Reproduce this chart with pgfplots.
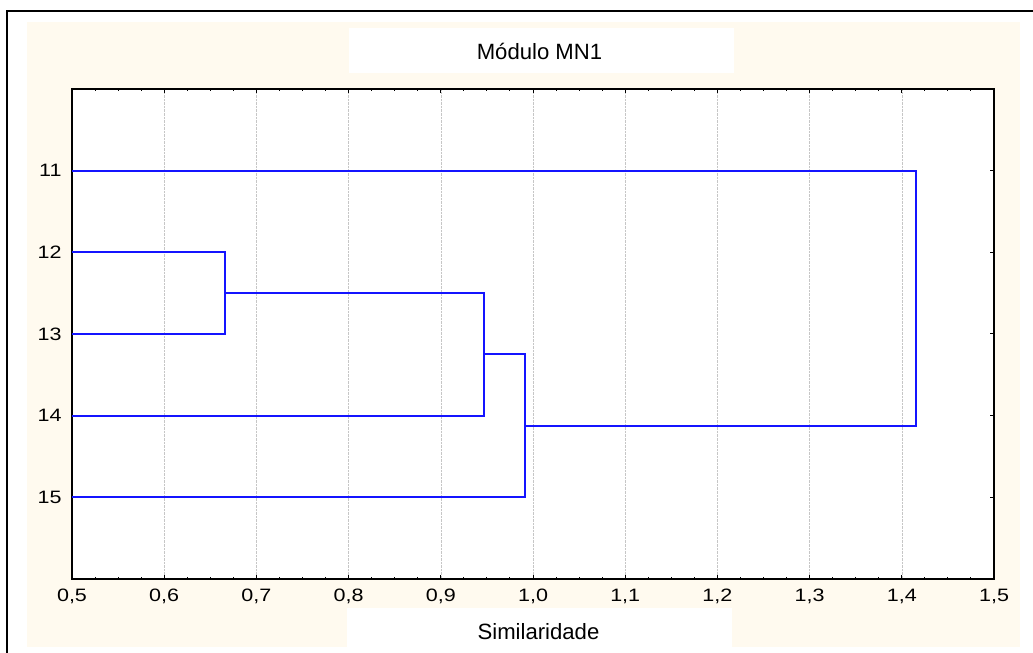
\documentclass[border=0pt]{standalone}
\usepackage{pgfplots}
\pgfplotsset{compat=1.18}
\usepackage{fontspec}
\setmainfont{Liberation Sans}
\newfontfamily\tickfont[FakeStretch=1.2]{Liberation Sans}
\definecolor{cream}{RGB}{255,250,239}
\definecolor{dblue}{RGB}{20,20,255}
\begin{document}
\begin{tikzpicture}[x=1bp,y=1bp]
\useasboundingbox (0,0) rectangle (1033,653);
\fill[white] (0,0) rectangle (1033,653);
\fill[cream] (27,6) rectangle (1020,631);
\fill[white] (349,580) rectangle (734,625);
\fill[white] (347,0) rectangle (732,45);
\draw[line width=1.6bp] (7,0) -- (7,642) -- (1033,642);
\node[font=\fontsize{22.2}{24}\selectfont] at (539.5,602) {Módulo MN1};
\node[font=\fontsize{22.2}{24}\selectfont] at (538.5,21) {Similaridade};
\begin{axis}[
  at={(72bp,74bp)}, anchor=south west,
  scale only axis, width=922bp, height=490bp,
  xmin=0.5, xmax=1.5, ymin=0, ymax=6, y dir=reverse,
  xtick={0.5,0.6,...,1.51}, minor x tick num=3,
  ytick={1,2,3,4,5}, yticklabels={11,12,13,14,15},
  tick align=inside,
  major tick length=4.5bp, minor tick length=2.5bp,
  tick style={black, line width=1bp},
  xmajorgrids, major grid style={densely dotted, gray!45, line width=0.6bp},
  axis line style={line width=1.5bp},
  axis background/.style={fill=white},
  ticklabel style={font=\tickfont\fontsize{18}{20}\selectfont},
  xticklabel style={yshift=-6.5bp},
  yticklabel style={xshift=-7bp},
  /pgf/number format/assume math mode=true,
  /pgf/number format/.cd, use comma, fixed, fixed zerofill, precision=1,
]
\addplot[dblue, line width=1.9bp] coordinates {(0.5,2) (0.666,2) (0.666,3) (0.5,3)};
\addplot[dblue, line width=1.9bp] coordinates {(0.666,2.5) (0.947,2.5) (0.947,4) (0.5,4)};
\addplot[dblue, line width=1.9bp] coordinates {(0.947,3.25) (0.991,3.25) (0.991,5) (0.5,5)};
\addplot[dblue, line width=1.9bp] coordinates {(0.991,4.125) (1.415,4.125) (1.415,1) (0.5,1)};
\end{axis}
\end{tikzpicture}
\end{document}
